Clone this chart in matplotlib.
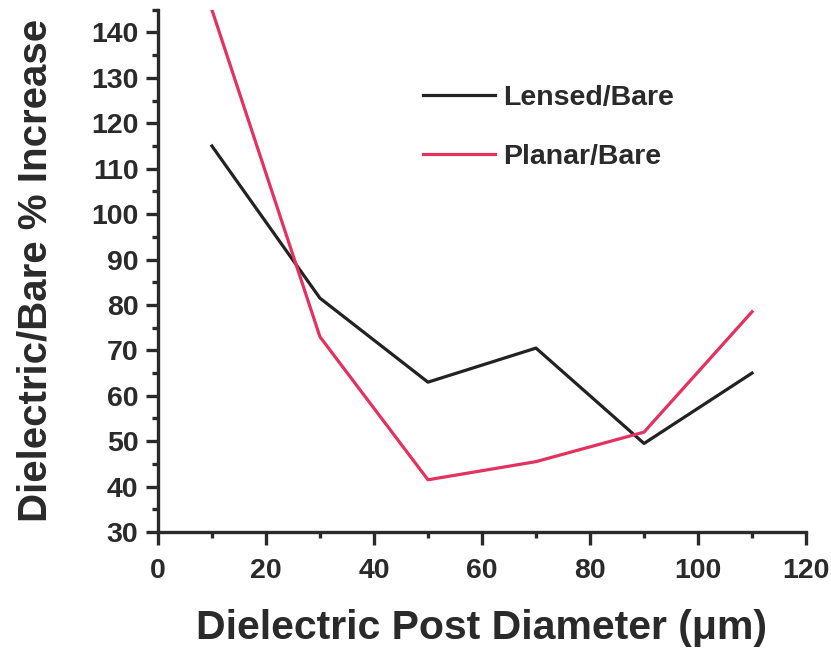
import matplotlib.pyplot as plt
from matplotlib.ticker import MultipleLocator

# post diameters (um) and % increase relative to the bare case
diametros = [10, 30, 50, 70, 90, 110]
lensed_bare = [115, 81.5, 63, 70.5, 49.5, 65]
planar_bare = [145, 73, 41.5, 45.5, 52, 78.5]

plt.rcParams['font.family'] = ['Liberation Sans', 'DejaVu Sans']
plt.rcParams['font.weight'] = 'bold'

fig = plt.figure(figsize=(8.31, 6.5), dpi=100)
ax = fig.add_axes([0.190, 0.1815, 0.780, 0.8035])

ax.plot(diametros, lensed_bare, color='#222222', lw=2.3, label='Lensed/Bare')
ax.plot(diametros, planar_bare, color='#e2325e', lw=2.3, label='Planar/Bare')

ax.set_xlim(0, 120)
ax.set_ylim(30, 145)
ax.xaxis.set_major_locator(MultipleLocator(20))
ax.xaxis.set_minor_locator(MultipleLocator(10))
ax.yaxis.set_major_locator(MultipleLocator(10))
ax.yaxis.set_minor_locator(MultipleLocator(5))

for lado in ['top', 'right']:
    ax.spines[lado].set_visible(False)
for lado in ['left', 'bottom']:
    ax.spines[lado].set_linewidth(2.4)
    ax.spines[lado].set_color('#2a2a2a')

ax.tick_params(which='major', direction='out', length=9, width=2.4,
               colors='#2a2a2a', labelsize=20.5, pad=5)
ax.tick_params(axis='x', which='major', pad=10)
ax.tick_params(which='minor', direction='out', length=4, width=2.4,
               colors='#2a2a2a')
for lbl in ax.get_xticklabels() + ax.get_yticklabels():
    lbl.set_fontweight('bold')

ax.set_xlabel('Dielectric Post Diameter (\u03bcm)', fontsize=29.5,
              fontweight='bold', color='#2a2a2a', labelpad=18)
ax.set_ylabel('Dielectric/Bare % Increase', fontsize=29,
              fontweight='bold', color='#2a2a2a', labelpad=26)

leg = ax.legend(loc='upper left', bbox_to_anchor=(0.37, 0.905), frameon=False,
                fontsize=20.5, handlelength=2.5, handletextpad=0.3,
                labelspacing=1.15)
for t in leg.get_texts():
    t.set_fontweight('bold')
    t.set_color('#2a2a2a')

plt.savefig('out.png', dpi=100)
